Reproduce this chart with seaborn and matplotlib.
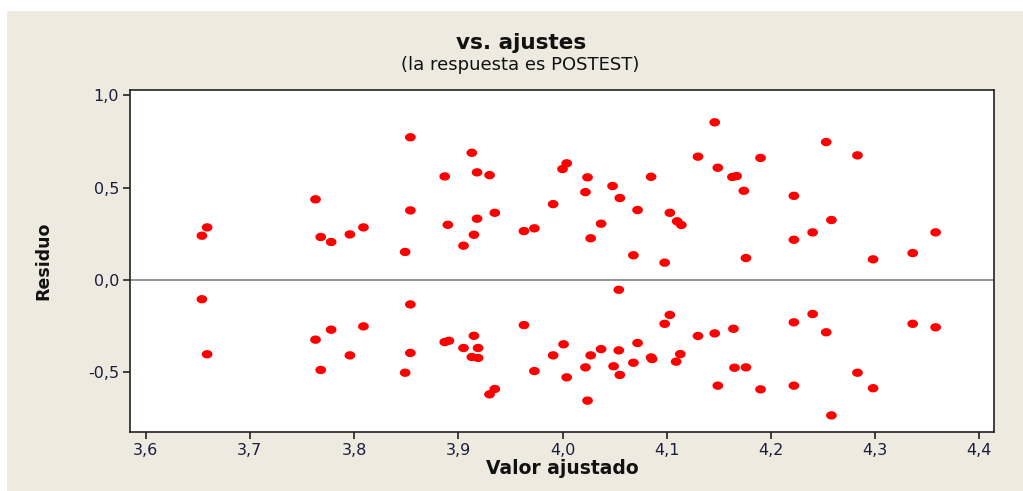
import numpy as np
import pandas as pd
import matplotlib
matplotlib.use("Agg")
import matplotlib.pyplot as plt
import matplotlib.ticker as mticker
from matplotlib.patches import Rectangle
import seaborn as sns

# fitted values (x) and residuals (y)
ajustado = [
    3.654, 3.659, 3.654, 3.659, 3.763, 3.768, 3.778, 3.796, 3.809, 3.849,
    3.854, 3.854, 3.854, 3.763, 3.768, 3.778, 3.796, 3.809, 3.854, 3.849,
    3.887, 3.913, 3.918, 3.930, 3.890, 3.918, 3.935, 3.915, 3.905, 3.963,
    3.973, 3.991, 4.004, 4.000, 4.024, 4.022, 4.048, 4.055, 4.085, 4.072,
    4.103, 4.110, 4.114, 4.037, 4.027, 4.068, 4.098, 4.054,
    4.103, 4.098, 3.963, 3.887, 3.891, 3.915, 3.905, 3.919, 3.913, 3.919,
    3.935, 3.930, 3.973, 3.991, 4.001, 4.004, 4.022, 4.027, 4.037, 4.054,
    4.049, 4.055, 4.024, 4.072, 4.068, 4.085, 4.086, 4.113, 4.109,
    4.146, 4.130, 4.149, 4.163, 4.167, 4.174, 4.190, 4.222, 4.253, 4.283,
    4.258, 4.240, 4.222, 4.176, 4.298, 4.336, 4.358,
    4.240, 4.222, 4.253, 4.130, 4.146, 4.164, 4.165, 4.176, 4.149, 4.190,
    4.222, 4.258, 4.283, 4.298, 4.336, 4.358,
]
residuo = [
    0.240, 0.285, -0.104, -0.402, 0.437, 0.233, 0.206, 0.247, 0.285, 0.152,
    0.377, 0.773, -0.132, -0.323, -0.487, -0.269, -0.408, -0.251, -0.395, -0.502,
    0.561, 0.689, 0.583, 0.568, 0.299, 0.332, 0.364, 0.245, 0.186, 0.265,
    0.280, 0.411, 0.632, 0.601, 0.556, 0.476, 0.509, 0.444, 0.559, 0.379,
    0.364, 0.318, 0.298, 0.305, 0.226, 0.134, 0.094, -0.053,
    -0.189, -0.237, -0.244, -0.336, -0.329, -0.302, -0.368, -0.368, -0.417, -0.422,
    -0.590, -0.619, -0.493, -0.408, -0.348, -0.527, -0.473, -0.408, -0.374, -0.381,
    -0.467, -0.514, -0.653, -0.341, -0.448, -0.419, -0.428, -0.401, -0.442,
    0.854, 0.668, 0.608, 0.558, 0.563, 0.483, 0.661, 0.456, 0.747, 0.675,
    0.325, 0.258, 0.218, 0.119, 0.112, 0.146, 0.258,
    -0.184, -0.229, -0.283, -0.303, -0.289, -0.264, -0.475, -0.473, -0.572, -0.592,
    -0.572, -0.733, -0.502, -0.586, -0.237, -0.256,
]

x_ticks = [3.6, 3.7, 3.8, 3.9, 4.0, 4.1, 4.2, 4.3, 4.4]
y_ticks = [-0.5, 0.0, 0.5, 1.0]

df = pd.DataFrame({"Valor ajustado": ajustado, "Residuo": residuo})

sns.set_style("white")
plt.rcParams['font.family'] = ['DejaVu Sans']

beige = '#EEEAE0'
fig = plt.figure(figsize=(10.23, 4.91), dpi=100, facecolor='white')
# beige panel behind the graph (thin white margin left/top)
fig.patches.append(Rectangle((7 / 1023, 0), 1, 1 - 11 / 491, transform=fig.transFigure,
                             facecolor=beige, edgecolor='none', zorder=-10))

ax = fig.add_axes([130 / 1023, 1 - 432 / 491, 864 / 1023, 342 / 491])
ax.set_facecolor('white')

# slightly flattened dot, like the Minitab symbol
t = np.linspace(0, 2 * np.pi, 25)
dot = np.column_stack([np.cos(t), 0.78 * np.sin(t)])

ax.axhline(0, color='#808080', lw=1.2, zorder=1)
sns.scatterplot(data=df, x="Valor ajustado", y="Residuo", ax=ax, color='#FF0000',
                s=60, edgecolor='none', marker=dot, zorder=3)

ax.set_xlim(3.585, 4.414)
ax.set_ylim(-0.823, 1.029)
ax.set_xticks(x_ticks)
ax.set_yticks(y_ticks)
fmt = mticker.FuncFormatter(lambda v, p: f"{v:.1f}".replace('.', ','))
ax.xaxis.set_major_formatter(fmt)
ax.yaxis.set_major_formatter(fmt)
ax.tick_params(direction='out', length=5, width=1.2, color='#222222',
               labelsize=11.5, labelcolor='#1c1c3c', pad=3, left=True, bottom=True)
for s in ax.spines.values():
    s.set_color('#222222')
    s.set_linewidth(1.2)

ax.set_xlabel("")
ax.set_ylabel("")
fig.text(562 / 1023, 1 - 468 / 491, "Valor ajustado", ha='center', va='center',
         fontsize=13.5, fontweight='bold', color='#111111')
fig.text(43 / 1023, 1 - 261 / 491, "Residuo", ha='center', va='center', rotation=90,
         fontsize=12.5, fontweight='bold', color='#111111')
fig.text(521 / 1023, 1 - 43 / 491, "vs. ajustes", ha='center', va='center',
         fontsize=15.5, fontweight='bold', color='#111111')
fig.text(520 / 1023, 1 - 65 / 491, "(la respuesta es POSTEST)", ha='center', va='center',
         fontsize=13, color='#111111')

fig.savefig("out.png", dpi=100, facecolor=fig.get_facecolor())
